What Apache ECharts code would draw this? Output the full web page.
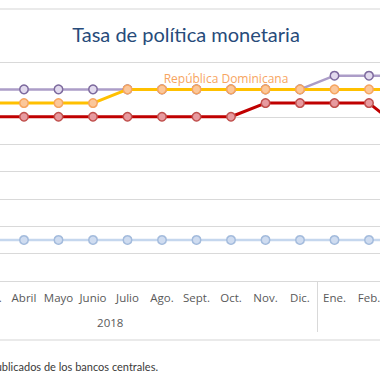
<!DOCTYPE html>
<html><head><meta charset="utf-8">
<script src="https://cdn.jsdelivr.net/npm/echarts@6/dist/echarts.min.js"></script>
<style>
html,body{margin:0;padding:0;width:380px;height:380px;overflow:hidden;background:#fff;position:relative}
#c{position:absolute;left:-110px;top:0;width:700px;height:380px}
</style></head>
<body><div id="c"></div>
<script>
// Categories (month, year)
const months = ['Ene.','Feb.','Mar.','Abril','Mayo','Junio','Julio','Ago.','Sept.','Oct.','Nov.','Dic.','Ene.','Feb.','Mar.','Abril','Mayo','Junio'];
const monthYears = [2018,2018,2018,2018,2018,2018,2018,2018,2018,2018,2018,2018,2019,2019,2019,2019,2019,2019];
const yearLabels = ['2018','2019'];
const yearSizes = [12, 6];

// Series values (%)
const honduras = [5.5,5.5,5.5,5.5,5.5,5.5,5.5,5.5,5.5,5.5,5.5,5.5,5.75,5.75,5.75,null,null,null];
const costaRica = [5,5,5,5,5,5,5,5,5,5,5.25,5.25,5.25,5.25,4.75,null,null,null];
const republicaDominicana = [5.25,5.25,5.25,5.25,5.25,5.25,5.5,5.5,5.5,5.5,5.5,5.5,5.5,5.5,5.5,null,null,null];
const guatemala = [2.75,2.75,2.75,2.75,2.75,2.75,2.75,2.75,2.75,2.75,2.75,2.75,2.75,2.75,2.75,null,null,null];

const yMin = 2, yMax = 6, yStep = 0.5;

const keys = months.map((m, i) => m + '|' + monthYears[i]);
const yearCenters = [], yearBounds = [0];
let acc = 0;
yearSizes.forEach(s => { yearCenters.push(acc + s / 2); acc += s; yearBounds.push(acc); });

const chart = echarts.init(document.getElementById('c'), null, {renderer: 'svg'});

function mk(name, data, line, fill, border, lw, z) {
  return {
    name, type: 'line', data, z,
    symbol: 'circle', symbolSize: 8.5, showSymbol: true,
    lineStyle: {color: line, width: lw},
    itemStyle: {color: fill, borderColor: border, borderWidth: 1.5},
    emphasis: {disabled: true}
  };
}

chart.setOption({
  animation: false,
  backgroundColor: '#fff',
  grid: {left: 13.25, width: 621, top: 62, bottom: 99},
  xAxis: [{
    type: 'category', data: keys, boundaryGap: true,
    axisLine: {show: true, lineStyle: {color: '#d9d9d9', width: 1}},
    axisTick: {show: false},
    axisLabel: {interval: 0, margin: 10, color: '#595959', fontSize: 11.5, fontFamily: 'Open Sans',
      formatter: v => v.split('|')[0]},
    splitLine: {show: false}
  }, {
    type: 'value', min: 0, max: acc, position: 'bottom',
    axisLine: {show: false},
    splitLine: {show: false},
    axisTick: {show: true, inside: false, length: 51, customValues: yearBounds,
      lineStyle: {color: '#d9d9d9', width: 1}},
    axisLabel: {show: true, margin: 35, color: '#595959', fontSize: 11.5, fontFamily: 'Open Sans',
      customValues: yearCenters,
      formatter: v => { const i = yearCenters.indexOf(v); return i >= 0 ? yearLabels[i] : ''; }}
  }],
  yAxis: {
    type: 'value', min: yMin, max: yMax, interval: yStep,
    axisLine: {show: false}, axisTick: {show: false}, axisLabel: {show: false},
    splitLine: {lineStyle: {color: '#d9d9d9', width: 1}}
  },
  series: [
    mk('Guatemala', guatemala, '#c5d7ee', '#cfdcf0', '#a3bbdc', 2.5, 2),
    mk('Honduras', honduras, '#ac9dc8', '#e2daee', '#7d6a9e', 2.5, 3),
    mk('Costa Rica', costaRica, '#c00000', '#e79a9f', '#c0504d', 3, 4),
    mk('República Dominicana', republicaDominicana, '#ffc000', '#fbc79a', '#f6a561', 3, 5)
  ],
  graphic: [
    {type: 'line', shape: {x1: 0, y1: 9, x2: 700, y2: 9}, style: {stroke: '#e3e3e3', lineWidth: 1.5}, silent: true},
    {type: 'line', shape: {x1: 0, y1: 340, x2: 700, y2: 340}, style: {stroke: '#e3e3e3', lineWidth: 1.5}, silent: true},
    {type: 'text', x: 296, y: 34, style: {text: 'Tasa de política monetaria', fill: '#274b7a',
      font: '20px Lato', textAlign: 'center', textVerticalAlign: 'middle'}},
    {type: 'text', x: 336, y: 78, style: {text: 'República Dominicana', fill: '#f7a55f',
      font: '12px "Open Sans"', textAlign: 'center', textVerticalAlign: 'middle'}},
    {type: 'text', x: 268, y: 366, style: {text: 'Fuente: SECMCA con datos publicados de los bancos centrales.', fill: '#3a3a3a',
      font: '11px Lato', textAlign: 'right', textVerticalAlign: 'middle'}}
  ]
});
</script>
</body></html>
